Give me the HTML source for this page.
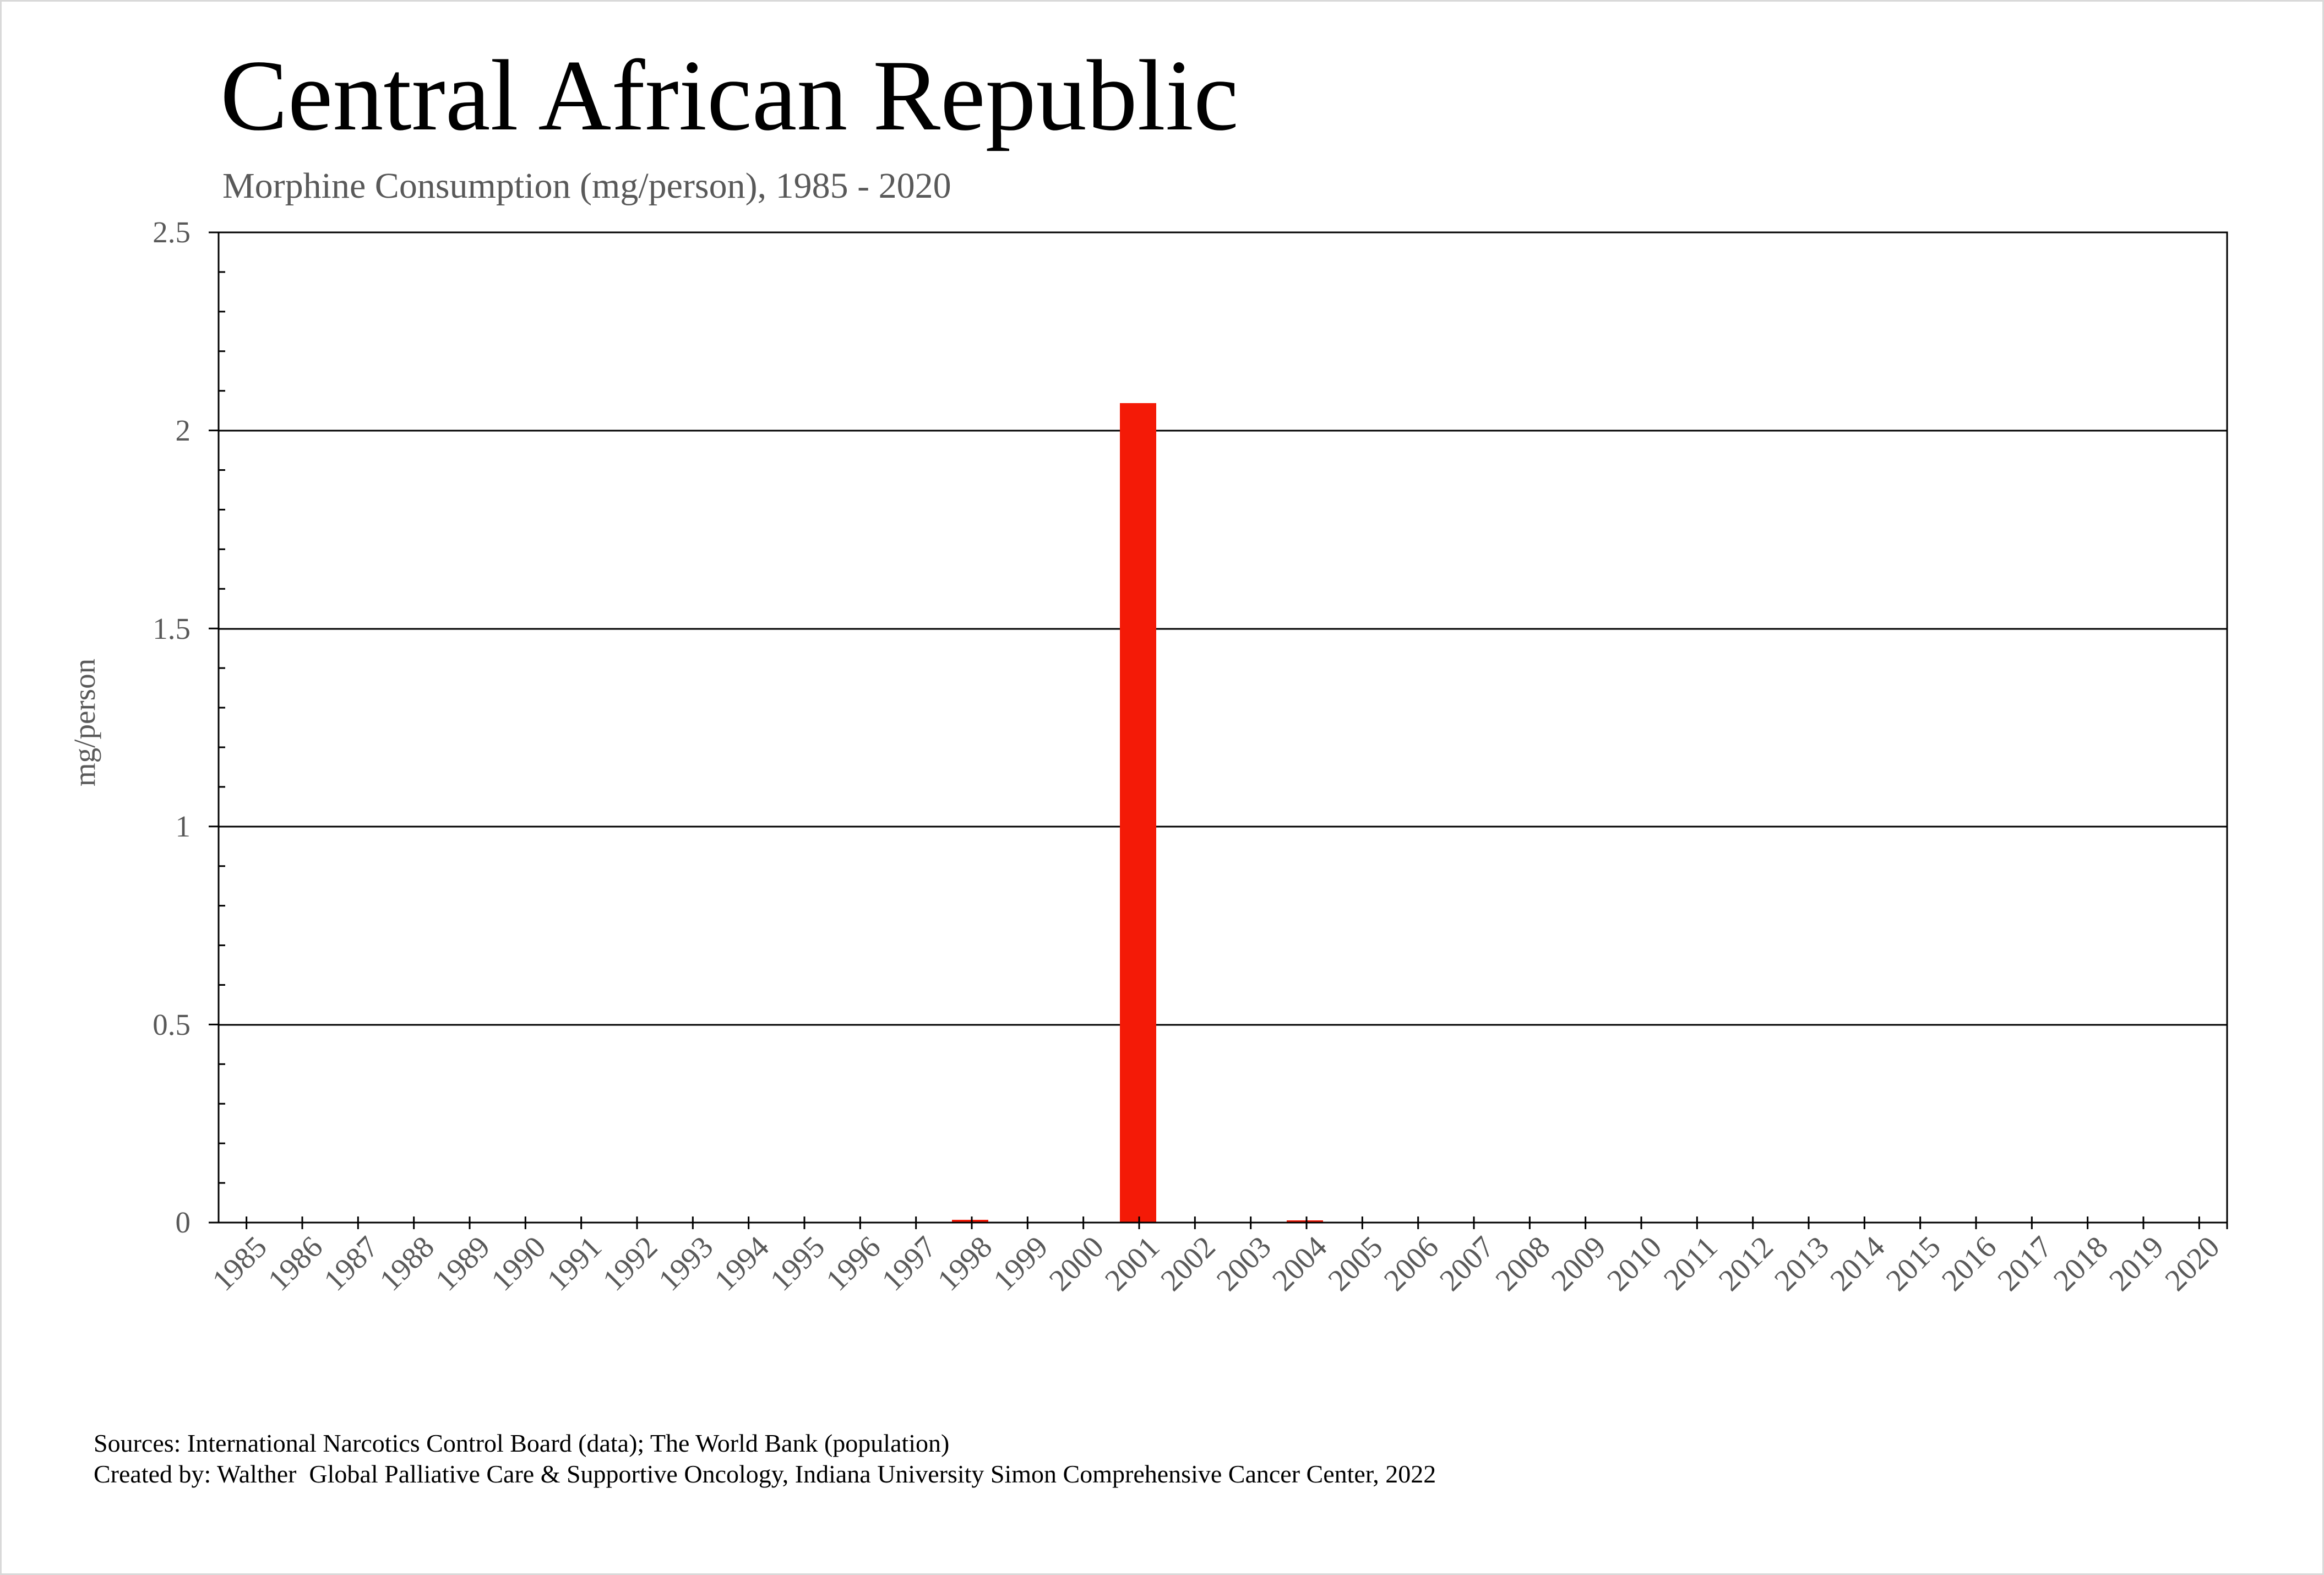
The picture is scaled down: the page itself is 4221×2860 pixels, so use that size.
<!DOCTYPE html>
<html><head><meta charset="utf-8"><style>
html,body{margin:0;padding:0;background:#fff;}
svg{display:block;}
</style></head><body>
<svg width="4221" height="2860" viewBox="0 0 4221 2860" xmlns="http://www.w3.org/2000/svg" font-family="'Liberation Serif', serif">
<rect x="1.5" y="1.5" width="4218" height="2857" fill="#fff" stroke="#d9d9d9" stroke-width="3"/>
<text x="400" y="235" font-size="184" fill="#000">Central African Republic</text>
<text x="404" y="359" font-size="66" fill="#595959">Morphine Consumption (mg/person), 1985 - 2020</text>
<text transform="translate(172,1312) rotate(-90)" text-anchor="middle" font-size="55" fill="#595959">mg/person</text>
<g stroke="#000" stroke-width="3">
<line x1="397" y1="1861" x2="4045" y2="1861"/>
<line x1="397" y1="1501" x2="4045" y2="1501"/>
<line x1="397" y1="1142" x2="4045" y2="1142"/>
<line x1="397" y1="782" x2="4045" y2="782"/>
</g>
<g fill="#f41a07">
<rect x="2034" y="732" width="66" height="1488"/>
<rect x="1729" y="2215" width="66" height="5"/>
<rect x="2337" y="2216" width="66" height="4"/>
</g>
<rect x="397" y="422" width="3648" height="1798" fill="none" stroke="#000" stroke-width="3"/>
<g stroke="#000" stroke-width="3" id="yt"></g>
<g font-size="55" fill="#595959" text-anchor="end">
<text x="346" y="2238">0</text>
<text x="346" y="1879">0.5</text>
<text x="346" y="1519">1</text>
<text x="346" y="1160">1.5</text>
<text x="346" y="800">2</text>
<text x="346" y="440">2.5</text>
</g>
<g id="xt"></g>
<script>
(function(){
var ns="http://www.w3.org/2000/svg";
var yt=document.getElementById("yt");
for(var i=0;i<=25;i++){
 var y=2220-i*71.92;
 var l=document.createElementNS(ns,"line");
 if(i%5==0){l.setAttribute("x1",379);l.setAttribute("x2",397);}
 else{l.setAttribute("x1",397);l.setAttribute("x2",409);}
 l.setAttribute("y1",y);l.setAttribute("y2",y);yt.appendChild(l);
}
var xt=document.getElementById("xt");
var w=3648/36;
for(var k=0;k<36;k++){
 var x=397+w*(k+0.5);
 var l=document.createElementNS(ns,"line");
 l.setAttribute("x1",x);l.setAttribute("x2",x);l.setAttribute("y1",2209);l.setAttribute("y2",2232);
 l.setAttribute("stroke","#000");l.setAttribute("stroke-width","3");xt.appendChild(l);
 var t=document.createElementNS(ns,"text");
 t.setAttribute("transform","translate("+(x+40)+",2268) rotate(-45)");
 t.setAttribute("text-anchor","end");t.setAttribute("font-size","56");t.setAttribute("fill","#595959");
 t.textContent=String(1985+k);xt.appendChild(t);
}
var l=document.createElementNS(ns,"line");
l.setAttribute("x1",4045);l.setAttribute("x2",4045);l.setAttribute("y1",2209);l.setAttribute("y2",2232);
l.setAttribute("stroke","#000");l.setAttribute("stroke-width","3");xt.appendChild(l);
})();
</script>
<text x="170" y="2636" font-size="46" fill="#000">Sources: International Narcotics Control Board (data); The World Bank (population)</text>
<text x="170" y="2692" font-size="46" fill="#000" xml:space="preserve">Created by: Walther  Global Palliative Care &amp; Supportive Oncology, Indiana University Simon Comprehensive Cancer Center, 2022</text>
</svg>
</body></html>
